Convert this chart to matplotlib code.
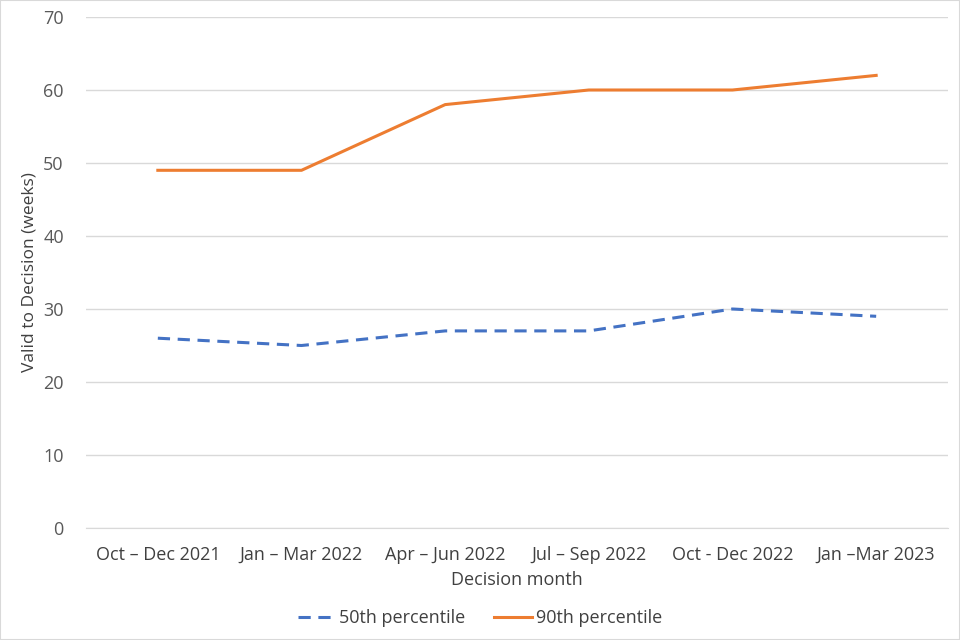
import matplotlib
matplotlib.use("Agg")
import matplotlib.pyplot as plt
from matplotlib.patches import Rectangle

categories = ["Oct \u2013 Dec 2021", "Jan \u2013 Mar 2022", "Apr \u2013 Jun 2022",
              "Jul \u2013 Sep 2022", "Oct - Dec 2022", "Jan \u2013Mar 2023"]
p50 = [26, 25, 27, 27, 30, 29]
p90 = [49, 49, 58, 60, 60, 62]
yticks = [0, 10, 20, 30, 40, 50, 60, 70]

fig = plt.figure(figsize=(9.6, 6.4), dpi=100)
ax = fig.add_axes([86/960, 1-528/640, (948-86)/960, (528-17)/640])

x = list(range(len(categories)))
blue = "#4472C4"
orange = "#ED7D31"
ax.plot(x, p50, color=blue, lw=2.2, dashes=(4, 2.5), label="50th percentile")
ax.plot(x, p90, color=orange, lw=2.2, label="90th percentile")

ax.set_xlim(-0.5, len(categories) - 0.5)
ax.set_ylim(0, 70)
ax.set_yticks(yticks)
ax.set_xticks(x)
ax.set_xticklabels(categories, family=["Open Sans", "DejaVu Sans"], fontsize=13, color="#404040")
for lab in ax.get_yticklabels():
    lab.set_family(["Open Sans", "DejaVu Sans"])
    lab.set_fontsize(13)
    lab.set_color("#595959")
ax.tick_params(axis="x", length=0, pad=13)
ax.tick_params(axis="y", length=0, pad=16)
ax.grid(axis="y", color="#D9D9D9", lw=1)
ax.set_axisbelow(True)
for s in ["top", "right", "left"]:
    ax.spines[s].set_visible(False)
ax.spines["bottom"].set_color("#D9D9D9")

ax.set_xlabel("Decision month", family=["Open Sans", "DejaVu Sans"], fontsize=13, color="#404040", labelpad=5)
ax.set_ylabel("Valid to Decision (weeks)", family=["Open Sans", "DejaVu Sans"], fontsize=12.5, color="#404040")
ax.yaxis.set_label_coords(-48/862, 0.5)

leg = fig.legend(handles=ax.get_lines(), loc="center", bbox_to_anchor=(0.5, 1-618/640), ncol=2,
                 frameon=False, prop={"family": ["Open Sans", "DejaVu Sans"], "size": 13},
                 handlelength=2.1, handletextpad=0.2, columnspacing=1.6)
for t in leg.get_texts():
    t.set_color("#404040")

fig.patches.append(Rectangle((0, 0), 1, 1, transform=fig.transFigure, fill=False,
                             edgecolor="#D9D9D9", lw=1.5))

fig.savefig("out.png", dpi=100)
